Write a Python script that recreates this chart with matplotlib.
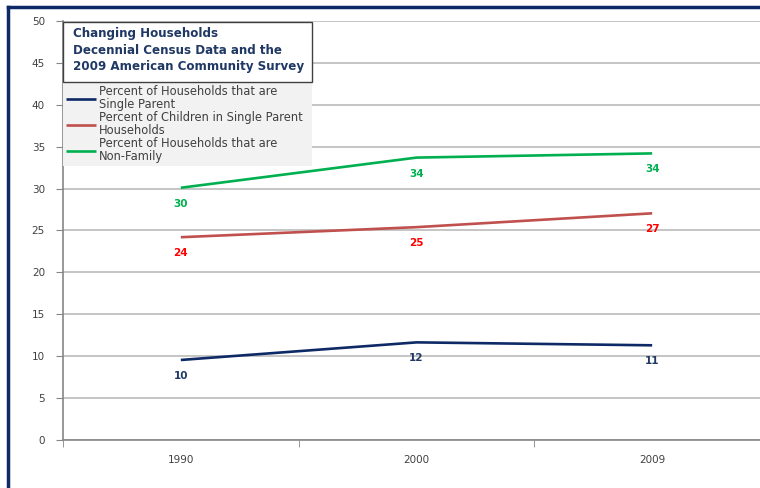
import numpy as np
import matplotlib.pyplot as plt
from matplotlib.patches import Rectangle
from matplotlib.lines import Line2D

# Census years and the three household measures (percent)
years = ['1990', '2000', '2009']
single_parent = [9.55, 11.65, 11.3]
children_single_parent = [24.2, 25.4, 27.05]
non_family = [30.1, 33.7, 34.2]

series_names = ['Percent of Households that are\nSingle Parent',
                'Percent of Children in Single Parent\nHouseholds',
                'Percent of Households that are\nNon-Family']
line_colors = ['#0E2A66', '#C0504D', '#00B050']
label_colors = ['#1F3864', '#FF0000', '#00B050']

W, H = 760, 488
fig = plt.figure(figsize=(W / 100, H / 100), dpi=100)
fig.patch.set_facecolor('white')

def fx(px):
    return px / W

def fy(py):
    return 1 - py / H

# plot area runs off the right edge of the figure
ax = fig.add_axes([fx(63), fy(440), fx(770) - fx(63), fy(21) - fy(440)])
ax.set_facecolor('white')

x = np.arange(len(years))
all_series = [single_parent, children_single_parent, non_family]
for vals, name, lc, tc in zip(all_series, series_names, line_colors, label_colors):
    ax.plot(x, vals, color=lc, lw=1.9, label=name, solid_capstyle='butt')
    for xi, v in zip(x, vals):
        ax.annotate(f'{v:.0f}', (xi, v), xytext=(0, -16), textcoords='offset pixels',
                    ha='center', va='center', fontsize=7.5, fontweight='bold',
                    color=tc, family='DejaVu Sans')

ax.set_xlim(-0.5, 2.5)
ax.set_ylim(0, 50)
ax.set_yticks(np.arange(0, 51, 5))
ax.yaxis.grid(True, color='#C0C0C0', lw=1.3)
ax.set_axisbelow(True)

# category labels centred, tick marks on the category boundaries
ax.set_xticks(x)
ax.set_xticklabels(years)
ax.set_xticks(np.arange(-0.5, 3, 1), minor=True)
ax.tick_params(axis='x', which='major', length=0, pad=11, labelsize=7.5, labelcolor='#404040')
ax.tick_params(axis='x', which='minor', length=5, color='#868686', direction='out')
ax.tick_params(axis='y', length=5, color='#868686', labelsize=7.5, labelcolor='#404040', pad=8)

for side in ['top', 'right']:
    ax.spines[side].set_visible(False)
for side in ['left', 'bottom']:
    ax.spines[side].set_color('#868686')
    ax.spines[side].set_linewidth(1.2)

# title box above the legend
box = Rectangle((fx(63), fy(82)), fx(312) - fx(63), fy(22) - fy(82), transform=fig.transFigure,
                facecolor='white', edgecolor='#404040', lw=1, zorder=5)
fig.patches.append(box)
fig.text(fx(73), fy(50), 'Changing Households\nDecennial Census Data and the\n2009 American Community Survey',
         ha='left', va='center', fontsize=8.6, fontweight='bold', color='#1F3864',
         linespacing=1.38, family='DejaVu Sans', zorder=6)

leg = ax.legend(loc='upper left', bbox_to_anchor=(fx(63), fy(82), fx(312) - fx(63), 0),
                bbox_transform=fig.transFigure, mode='expand', frameon=True,
                facecolor='#F2F2F2', edgecolor='none', framealpha=1, fancybox=False,
                borderpad=0.25, borderaxespad=0, handlelength=2.6, handletextpad=0.25,
                labelspacing=0.02, labelcolor='#404040',
                prop={'family': 'DejaVu Sans', 'size': 8.3})
for t in leg.get_texts():
    t.set_linespacing(1.0)

# outer navy frame on the top and left
fig.add_artist(Line2D([fx(8), fx(8)], [0, fy(7)], color='#0E2A66', lw=2.5))
fig.add_artist(Line2D([fx(8), 1], [fy(7), fy(7)], color='#0E2A66', lw=2.5))

fig.savefig('out.png', dpi=100)
